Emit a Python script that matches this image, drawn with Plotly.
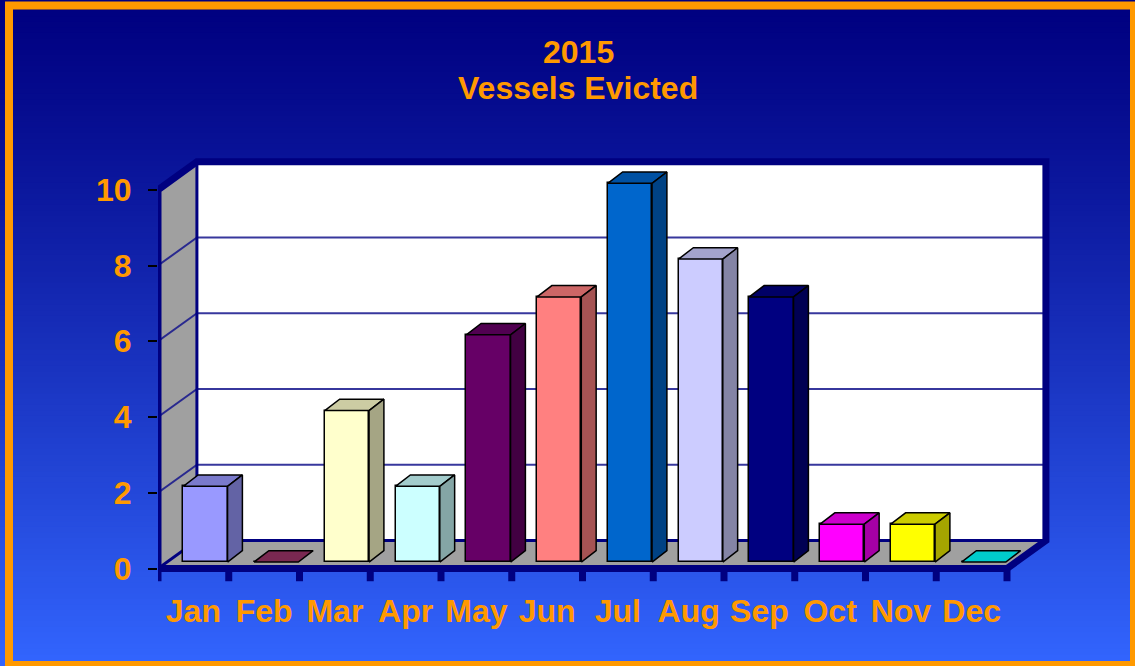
import plotly.graph_objects as go

# ---------------- data ----------------
months = ["Jan", "Feb", "Mar", "Apr", "May", "Jun", "Jul", "Aug", "Sep", "Oct", "Nov", "Dec"]
vessels = [2, 0, 4, 2, 6, 7, 10, 8, 7, 1, 1, 0]
bar_colors = ["#9999FF", "#993366", "#FFFFCC", "#CCFFFF", "#660066", "#FF8080",
              "#0066CC", "#CCCCFF", "#000080", "#FF00FF", "#FFFF00", "#00FFFF"]
y_ticks = [0, 2, 4, 6, 8, 10]
title_year = "2015"
title_text = "Vessels Evicted"

# ---------------- layout geometry ----------------
W, H = 1135, 666
L, R, T, B = 158, 73, 130, 84
pw, ph = W - L - R, H - T - B
UX, UY = 70.75, 37.87          # pixels per data unit
Y0PIX = 568.5                   # pixel row of value 0 (front)
xr = [0, pw / UX]
yr = [(Y0PIX - (H - B)) / UY, (Y0PIX - T) / UY]

DX, DY = 0.55, 0.74             # depth of the 3-D box (data units)
BAR_W = 0.626
BAR_OFF = 0.17                  # bar shift into depth
BAR_DX, BAR_DY = 0.21, 0.30     # bar depth
NAVY = "#000080"
ORANGE = "#FF9900"
GRAY = "#A0A0A0"
FONT = "Arial, Liberation Sans, sans-serif"
n = len(months)
ymax = max(y_ticks)


def pxx(p):
    return (p - L) / pw


def pxy(p):
    return (H - B - p) / ph


def shade(hexc, k):
    h = hexc.lstrip("#")
    r, g, b = int(h[0:2], 16), int(h[2:4], 16), int(h[4:6], 16)
    return "#%02X%02X%02X" % (int(r * k), int(g * k), int(b * k))


shapes = []

# background gradient (paper)
nb = 120
top_c = (0x00, 0x00, 0x80)
bot_c = (0x33, 0x66, 0xFF)
for i in range(nb):
    t = (i + 0.5) / nb
    tt = t ** 1.15
    c = tuple(int(top_c[j] + (bot_c[j] - top_c[j]) * tt) for j in range(3))
    shapes.append(dict(type="rect", xref="paper", yref="paper", layer="below",
                       x0=pxx(0), x1=pxx(W), y0=pxy(H * (i + 1) / nb + 0.5), y1=pxy(H * i / nb - 0.5),
                       fillcolor="rgb(%d,%d,%d)" % c, line=dict(width=0)))

# back wall
shapes.append(dict(type="rect", xref="x", yref="y", layer="below",
                   x0=DX, x1=n + DX, y0=DY, y1=ymax + DY, fillcolor="white", line=dict(width=0)))
# left wall
shapes.append(dict(type="path", xref="x", yref="y", layer="below",
                   path=f"M0,0 L{DX},{DY} L{DX},{ymax+DY} L0,{ymax} Z",
                   fillcolor=GRAY, line=dict(width=0)))
# floor
shapes.append(dict(type="path", xref="x", yref="y", layer="below",
                   path=f"M0,0 L{n},0 L{n+DX},{DY} L{DX},{DY} Z",
                   fillcolor=GRAY, line=dict(width=0)))
# gridlines
for k in y_ticks[1:-1]:
    shapes.append(dict(type="line", xref="x", yref="y", layer="below",
                       x0=DX, x1=n + DX, y0=k + DY, y1=k + DY,
                       line=dict(color="rgba(20,20,140,0.85)", width=2)))
    shapes.append(dict(type="line", xref="x", yref="y", layer="below",
                       x0=0, x1=DX, y0=k, y1=k + DY,
                       line=dict(color="rgba(20,20,140,0.85)", width=2)))
# inner edges
shapes.append(dict(type="path", xref="x", yref="y", layer="below",
                   path=f"M0,0 L{DX},{DY} L{DX},{ymax+DY} M{DX},{DY} L{n+DX},{DY}",
                   line=dict(color=NAVY, width=3)))
# outer outline
shapes.append(dict(type="path", xref="x", yref="y", layer="below",
                   path=f"M0,0 L0,{ymax} L{DX},{ymax+DY} L{n+DX},{ymax+DY} L{n+DX},{DY} L{n},0 Z",
                   line=dict(color=NAVY, width=7)))

# orange frame
shapes.append(dict(type="rect", xref="paper", yref="paper", layer="above",
                   x0=pxx(9), x1=pxx(1134), y0=pxy(665), y1=pxy(5.5),
                   line=dict(color=ORANGE, width=8)))

fig = go.Figure()

# front faces
centers = [i + 0.5 + BAR_OFF for i in range(n)]
fig.add_trace(go.Bar(x=centers, y=vessels, base=[BAR_OFF] * n, width=[BAR_W] * n,
                     marker=dict(color=bar_colors, line=dict(color="black", width=1.5)),
                     hoverinfo="skip", showlegend=False))

# top and side faces
for i, v in enumerate(vessels):
    x0 = centers[i] - BAR_W / 2
    x1 = centers[i] + BAR_W / 2
    yb = BAR_OFF
    yt = BAR_OFF + v
    fig.add_trace(go.Scatter(
        x=[x0, x1, x1 + BAR_DX, x0 + BAR_DX, x0],
        y=[yt, yt, yt + BAR_DY, yt + BAR_DY, yt],
        mode="lines", fill="toself", fillcolor=shade(bar_colors[i], 0.8),
        line=dict(color="black", width=1.5), hoverinfo="skip", showlegend=False))
    if v > 0:
        fig.add_trace(go.Scatter(
            x=[x1, x1 + BAR_DX, x1 + BAR_DX, x1, x1],
            y=[yb, yb + BAR_DY, yt + BAR_DY, yt, yb],
            mode="lines", fill="toself", fillcolor=shade(bar_colors[i], 0.65),
            line=dict(color="black", width=1.5), hoverinfo="skip", showlegend=False))

# navy category boundary ticks below the floor
tx, ty = [], []
for i in range(n + 1):
    tx += [i, i, None]
    ty += [0, yr[0] + 0.02, None]
fig.add_trace(go.Scatter(x=tx, y=ty, mode="lines", line=dict(color=NAVY, width=7),
                         hoverinfo="skip", showlegend=False))

annotations = [
    dict(text=title_year, xref="paper", yref="paper", x=pxx(578), y=pxy(52),
         xanchor="center", yanchor="middle", showarrow=False,
         font=dict(family=FONT, size=32, color=ORANGE, weight="bold")),
    dict(text=title_text, xref="paper", yref="paper", x=pxx(578), y=pxy(88),
         xanchor="center", yanchor="middle", showarrow=False,
         font=dict(family=FONT, size=32, color=ORANGE, weight="bold")),
]

fig.update_layout(
    width=W, height=H,
    margin=dict(l=L, r=R, t=T, b=B, pad=0),
    paper_bgcolor="#1a2fa0",
    plot_bgcolor="rgba(0,0,0,0)",
    shapes=shapes,
    annotations=annotations,
    bargap=0,
    xaxis=dict(range=xr, showgrid=False, zeroline=False, showline=False,
               tickmode="array", tickvals=[i + 0.5 for i in range(n)], ticktext=months,
               ticks="", ticklabelstandoff=7,
               tickfont=dict(family=FONT, size=32, color=ORANGE, weight="bold"),
               fixedrange=True),
    yaxis=dict(range=yr, showgrid=False, zeroline=False, showline=False,
               tickmode="array", tickvals=y_ticks,
               ticks="outside", ticklen=9, tickwidth=2, tickcolor="black",
               ticklabelstandoff=10,
               tickfont=dict(family=FONT, size=32, color=ORANGE, weight="bold"),
               fixedrange=True),
)

fig.write_html("out.html", config={"displayModeBar": False},
               post_script="document.body.style.margin='0';document.body.style.overflow='hidden';")
